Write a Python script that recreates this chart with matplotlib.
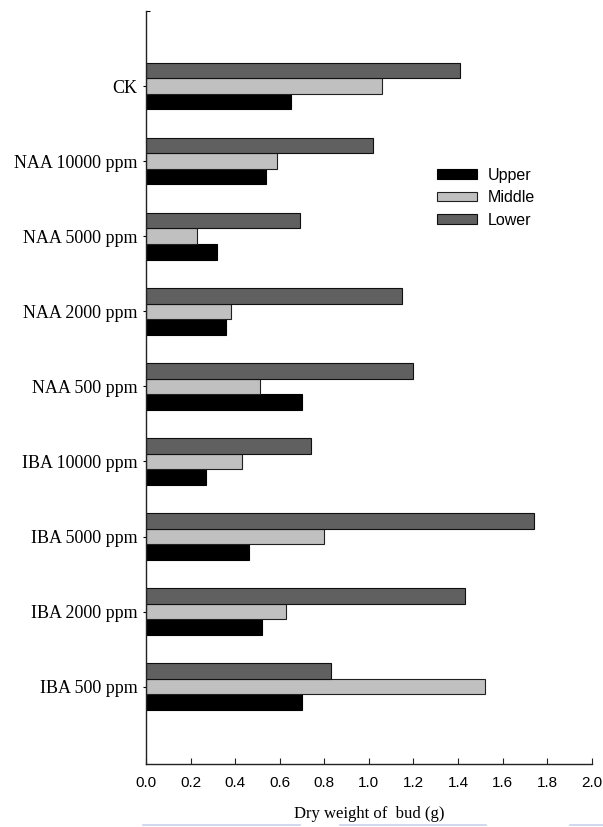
import numpy as np
import matplotlib.pyplot as plt
from matplotlib.lines import Line2D

# treatments, listed from bottom to top of the chart
treatments = ['IBA 500 ppm', 'IBA 2000 ppm', 'IBA 5000 ppm', 'IBA 10000 ppm',
              'NAA 500 ppm', 'NAA 2000 ppm', 'NAA 5000 ppm', 'NAA 10000 ppm', 'CK']

# dry weight of bud (g) for each cutting position
upper = [0.70, 0.52, 0.46, 0.27, 0.70, 0.36, 0.32, 0.54, 0.65]
middle = [1.52, 0.63, 0.80, 0.43, 0.51, 0.38, 0.23, 0.59, 1.06]
lower = [0.83, 1.43, 1.74, 0.74, 1.20, 1.15, 0.69, 1.02, 1.41]

x_ticks = [0.0, 0.2, 0.4, 0.6, 0.8, 1.0, 1.2, 1.4, 1.6, 1.8, 2.0]

serif = ['Liberation Serif', 'DejaVu Serif']
sans = ['Liberation Sans', 'DejaVu Sans']

fig = plt.figure(figsize=(6.03, 8.27), dpi=100)
ax = fig.add_axes([0.2421, 0.0762, 0.7392, 0.9105])

y = np.arange(len(treatments))
h = 0.207

ax.barh(y - h, upper, height=h, color='black', edgecolor='black', linewidth=0.8, label='Upper')
ax.barh(y, middle, height=h, color='#c0c0c0', edgecolor='#202020', linewidth=0.8, label='Middle')
ax.barh(y + h, lower, height=h, color='#606060', edgecolor='#101010', linewidth=0.8, label='Lower')

ax.set_xlim(0, 2.0)
ax.set_ylim(-1.03, 9.0)
ax.set_xticks(x_ticks)
ax.set_xticklabels([f'{v:.1f}' for v in x_ticks], fontfamily=sans, fontsize=11)
ax.set_yticks(y)
ax.set_yticklabels(treatments, fontfamily=serif, fontsize=13)
ax.set_yticks([9.0], minor=True)

ax.tick_params(axis='x', direction='in', length=4, width=0.8, pad=9, colors='#222222', labelcolor='black')
ax.tick_params(axis='y', which='major', direction='out', length=2, width=0.8, pad=4)
ax.tick_params(axis='y', which='minor', direction='in', length=3, width=0.8)

for side in ['top', 'right']:
    ax.spines[side].set_visible(False)
for side in ['left', 'bottom']:
    ax.spines[side].set_linewidth(1.0)
    ax.spines[side].set_color('#222222')

ax.set_xlabel('Dry weight of  bud (g)', fontfamily=serif, fontsize=12, labelpad=11)

ax.legend(loc='upper left', bbox_to_anchor=(0.653, 0.792), frameon=False,
          prop={'family': sans, 'size': 11.5}, handlelength=2.5, handleheight=0.55,
          handletextpad=0.7, labelspacing=0.47, borderpad=0, borderaxespad=0)

# faint rules along the bottom edge of the page
for x0, x1 in [(0.237, 0.497), (0.564, 0.806), (0.945, 1.0)]:
    fig.add_artist(Line2D([x0, x1], [0.002, 0.002], color='#c9d2ec', linewidth=1.2))

fig.savefig('out.png', dpi=100)
